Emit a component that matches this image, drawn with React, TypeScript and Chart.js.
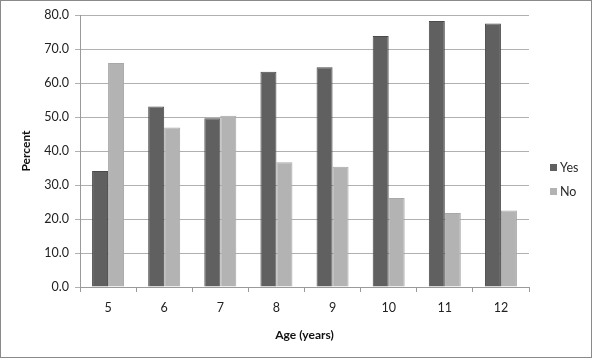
import React, { useEffect, useRef } from "react";
import { Chart, registerables } from "chart.js";

Chart.register(...registerables);

const categories = ["5", "6", "7", "8", "9", "10", "11", "12"];
const yesValues = [34.1, 53.1, 49.6, 63.3, 64.6, 73.8, 78.2, 77.5];
const noValues = [65.9, 46.9, 50.4, 36.7, 35.4, 26.2, 21.8, 22.5];
const seriesNames = ["Yes", "No"];
const yTickStep = 10;
const yMax = 80;

const FONT = "Lato, 'Liberation Sans', sans-serif";

const framePlugin = {
  id: "frame",
  beforeDraw(chart: any) {
    const { ctx, width, height } = chart;
    ctx.save();
    ctx.fillStyle = "#ffffff";
    ctx.fillRect(0, 0, width, height);
    ctx.restore();
  },
  afterDraw(chart: any) {
    const { ctx, width, height } = chart;
    ctx.save();
    ctx.strokeStyle = "#8a8a8a";
    ctx.lineWidth = 1;
    ctx.strokeRect(0.5, 0.5, width - 2, height - 2);
    // custom legend
    const ds = chart.data.datasets;
    const x0 = 550;
    const rows = [167.5, 191.5];
    ctx.font = `12.5px ${FONT}`;
    ctx.textBaseline = "middle";
    ctx.textAlign = "left";
    ds.forEach((d: any, i: number) => {
      const y = rows[i];
      ctx.fillStyle = d.backgroundColor;
      ctx.fillRect(x0, y - 3.5, 7, 7);
      ctx.fillStyle = "#2a2a2a";
      ctx.fillText(d.label, x0 + 10, y);
    });
    ctx.restore();
  },
};

export default function App() {
  const ref = useRef<HTMLCanvasElement>(null);
  useEffect(() => {
    if (!ref.current) return;
    const chart = new Chart(ref.current, {
      type: "bar",
      data: {
        labels: categories,
        datasets: [
          {
            label: seriesNames[0],
            data: yesValues,
            backgroundColor: "#606060",
            borderColor: "#4a4a4a",
            borderWidth: 1,
            barPercentage: 1,
            categoryPercentage: 0.57,
          },
          {
            label: seriesNames[1],
            data: noValues,
            backgroundColor: "#b3b3b3",
            borderColor: "#a8a8a8",
            borderWidth: 1,
            barPercentage: 1,
            categoryPercentage: 0.57,
          },
        ],
      },
      options: {
        animation: false,
        responsive: false,
        maintainAspectRatio: false,
        layout: { padding: { top: 15, right: 64, left: 0, bottom: 0 } },
        plugins: {
          legend: { display: false },
          tooltip: { enabled: false },
        },
        scales: {
          x: {
            afterFit: (s: any) => {
              s.height = 72;
            },
            grid: {
              offset: true,
              drawOnChartArea: false,
              drawTicks: true,
              tickLength: 5,
              color: "#9a9a9a",
            },
            border: { display: true, color: "#9a9a9a" },
            ticks: {
              color: "#222222",
              font: { family: FONT, size: 12.5 },
              padding: 8,
            },
            title: {
              display: true,
              text: "Age (years)",
              color: "#111111",
              font: { family: FONT, size: 12, weight: "bold" },
              padding: { top: 0, bottom: 17 },
            },
          },
          y: {
            min: 0,
            max: yMax,
            afterFit: (s: any) => {
              s.width = 80;
            },
            ticks: {
              stepSize: yTickStep,
              color: "#222222",
              font: { family: FONT, size: 12.5 },
              padding: 6,
              callback: (v: any) => Number(v).toFixed(1),
            },
            grid: {
              color: "#b0b0b0",
              drawTicks: true,
              tickLength: 5,
            },
            border: { display: true, color: "#9a9a9a" },
            title: {
              display: true,
              text: "Percent",
              color: "#111111",
              font: { family: FONT, size: 12, weight: "bold" },
              padding: { top: 19, bottom: 0 },
            },
          },
        },
      },
      plugins: [framePlugin],
    });
    return () => chart.destroy();
  }, []);
  return (
    <div style={{ position: "absolute", left: 0, top: 0, width: 593, height: 359 }}>
      <canvas ref={ref} width={593} height={359} style={{ display: "block" }} />
    </div>
  );
}
